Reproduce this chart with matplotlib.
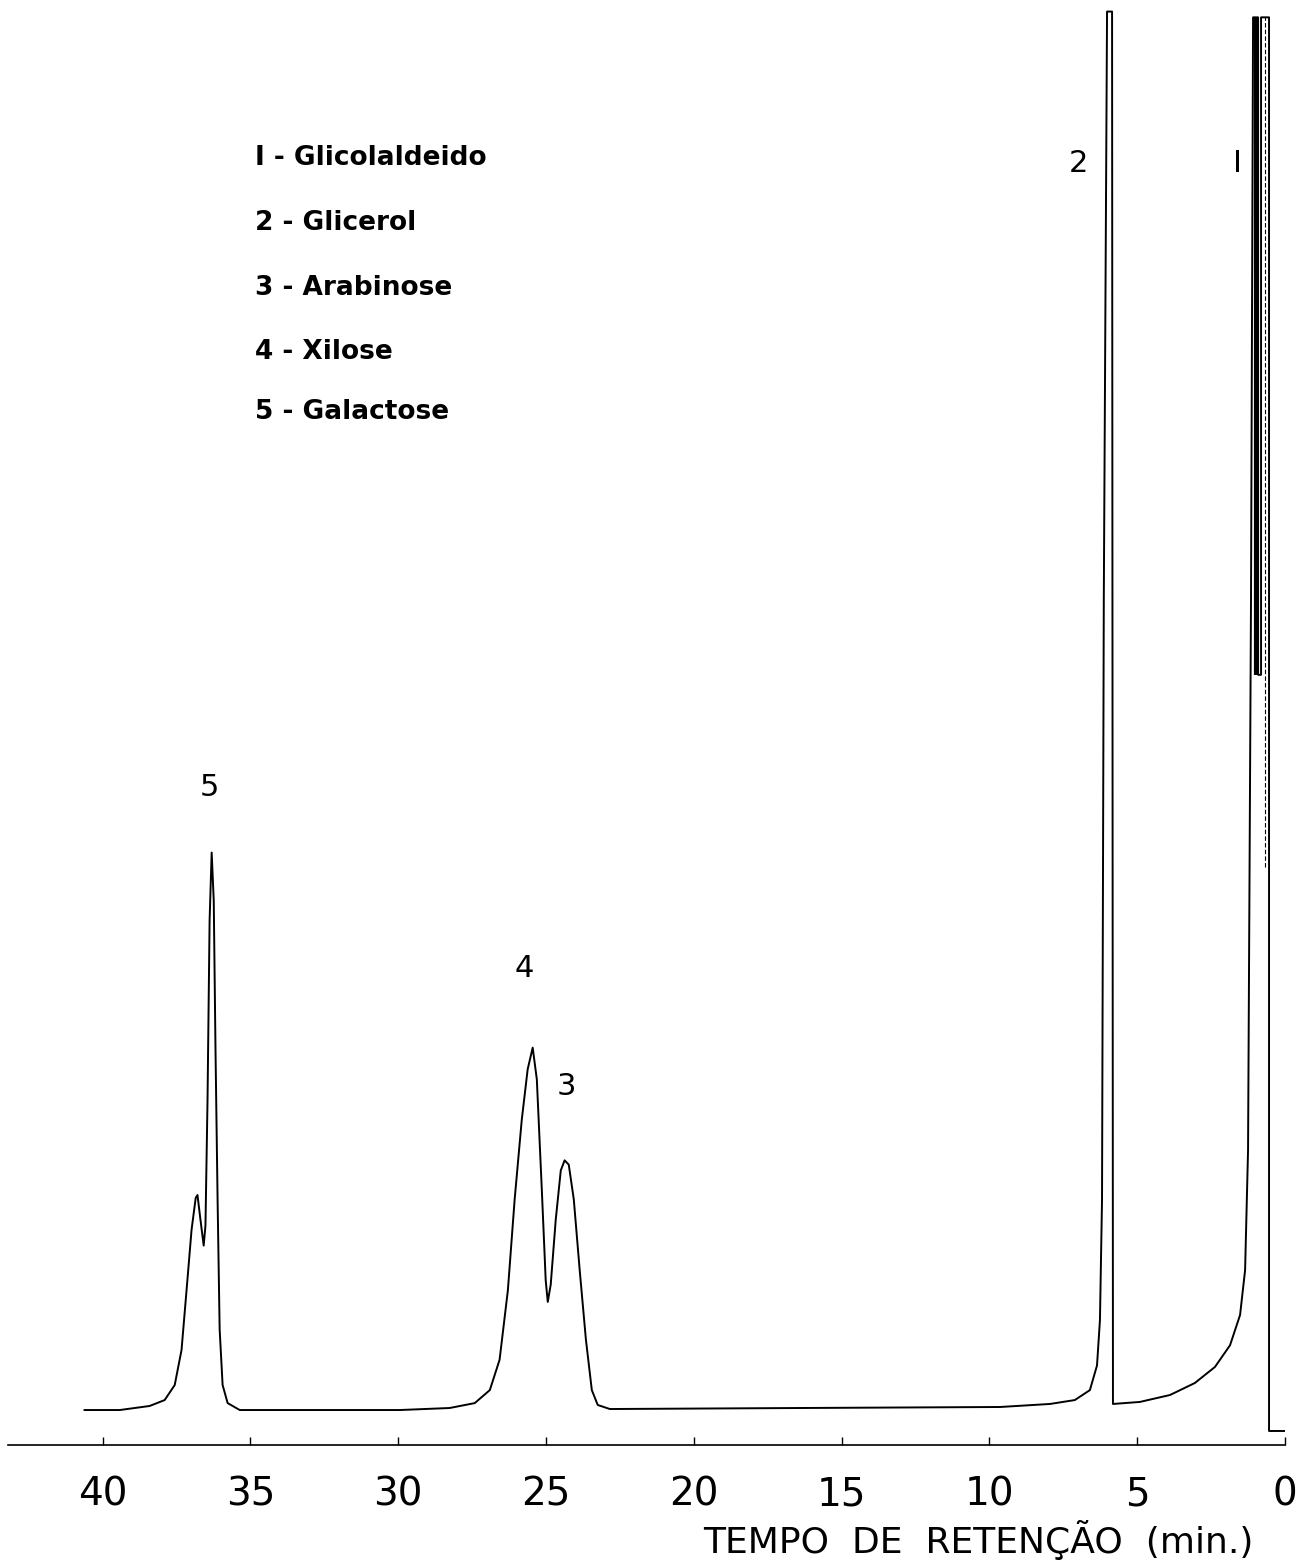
import numpy as np
import matplotlib
matplotlib.use("Agg")
import matplotlib.pyplot as plt

# chromatogram trace
# time in min, signal in % of full scale
tempo = [40.61, 39.42, 38.41, 37.90, 37.56, 37.33, 37.16, 36.99, 36.85, 36.79,
         36.69, 36.58, 36.52, 36.45, 36.38, 36.31, 36.24, 36.18, 36.11, 36.04,
         35.94, 35.77, 35.36, 33.33, 29.95, 28.26, 27.41, 26.90, 26.57, 26.29,
         26.06, 25.82, 25.62, 25.45, 25.31, 25.14, 25.01, 24.94, 24.84, 24.67,
         24.50, 24.37, 24.23, 24.06, 23.86, 23.65, 23.45, 23.25, 22.84, 16.41,
         9.64, 7.95, 7.11, 6.60, 6.36, 6.26, 6.19, 6.13, 6.02, 5.85,
         5.82, 4.91, 3.89, 3.05, 2.37, 1.86, 1.52, 1.35, 1.25, 1.15,
         1.08, 0.91, 0.91, 0.81, 0.81, 0.54, 0.54, 0.0]
sinal = [2.42, 2.42, 2.70, 3.11, 4.15, 6.57, 10.7, 14.9, 17.1, 17.3,
         15.6, 13.8, 15.2, 23.9, 36.3, 41.0, 37.7, 27.3, 17.0, 8.0,
         4.15, 2.9, 2.42, 2.42, 2.42, 2.56, 2.9, 3.8, 5.9, 10.7,
         17.0, 22.5, 26.0, 27.5, 25.3, 17.6, 11.4, 9.9, 11.1, 15.6,
         19.0, 19.7, 19.4, 17.0, 12.1, 7.3, 3.8, 2.77, 2.49, 2.56,
         2.63, 2.84, 3.11, 3.8, 5.5, 8.65, 17.0, 58.5, 99.2, 99.2,
         2.84, 2.98, 3.46, 4.29, 5.4, 6.9, 9.0, 12.1, 20.4, 58.5,
         98.8, 98.8, 53.3, 53.3, 98.8, 98.8, 0.97, 0.97]

# dense pen band of the solvent peak (1) and a fainter inner line
banda_t = [0.99, 0.99]
banda_s = [53.3, 98.8]
interna_t = [0.67, 0.67]
interna_s = [40.0, 98.8]

picos = ["5", "4", "3", "2", "I"]
picos_t = [36.38, 25.72, 24.30, 7.0, 1.59]
picos_s = [45.5, 33.0, 24.8, 88.7, 88.7]

legenda = ["I - Glicolaldeido", "2 - Glicerol", "3 - Arabinose", "4 - Xilose", "5 - Galactose"]

ticks = [40, 35, 30, 25, 20, 15, 10, 5, 0]

W, H = 1307, 1566
fig = plt.figure(figsize=(W / 100, H / 100), dpi=100)
ax = fig.add_axes([8 / W, 121 / H, 1277 / W, 1445 / H])

ax.plot(tempo, sinal, color="black", lw=1.4)
ax.plot(banda_t, banda_s, color="black", lw=3, solid_capstyle="butt")
ax.plot(interna_t, interna_s, color="black", lw=0.8, ls=(0, (4, 2)))

ax.set_xlim(43.2, 0)
ax.set_ylim(0, 100)

for s in ["top", "left", "right"]:
    ax.spines[s].set_visible(False)
ax.spines["bottom"].set_linewidth(1.2)
ax.set_yticks([])
ax.set_xticks(ticks)
ax.set_xticklabels([str(t) for t in ticks], fontsize=28, family="DejaVu Sans")
ax.tick_params(axis="x", direction="in", length=6, width=1, pad=22)

for lab, t, s in zip(picos, picos_t, picos_s):
    ax.text(t, s, lab, fontsize=22, ha="center", va="center")

ys = [158, 223, 288, 352, 412]
for txt, y in zip(legenda, ys):
    fig.text(255 / W, 1 - y / H, txt, fontsize=19, fontweight="bold",
             ha="left", va="center")

fig.text(978 / W, 1 - 1540 / H, "TEMPO  DE  RETENÇÃO  (min.)", fontsize=26,
         ha="center", va="center")

fig.savefig("out.png", dpi=100)
